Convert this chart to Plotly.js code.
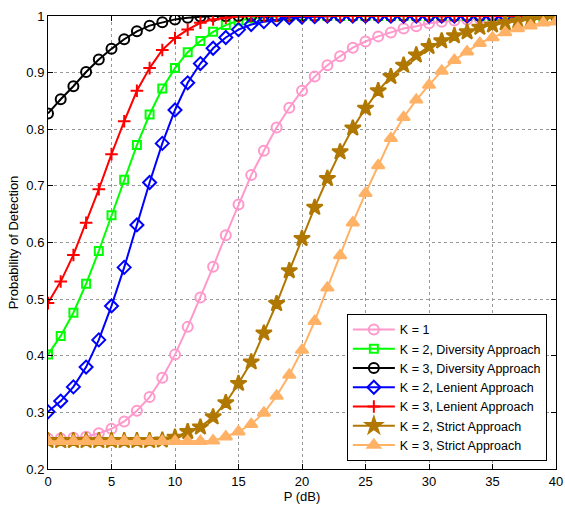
<!DOCTYPE html>
<html>
<head>
<meta charset="utf-8">
<script src="https://cdn.plot.ly/plotly-3.0.1.min.js"></script>
<style>html,body{margin:0;padding:0;background:#fff;}#chart{width:565px;height:507px;}</style>
</head>
<body>
<div id="chart"></div>
<script>
const P = [0,1,2,3,4,5,6,7,8,9,10,11,12,13,14,15,16,17,18,19,20,21,22,23,24,25,26,27,28,29,30,31,32,33,34,35,36,37,38,39,40];
const k1 = [0.254,0.254,0.255,0.257,0.263,0.271,0.284,0.303,0.327,0.361,0.402,0.451,0.503,0.557,0.613,0.667,0.719,0.762,0.803,0.838,0.868,0.893,0.913,0.929,0.944,0.955,0.964,0.971,0.978,0.982,0.987,0.990,0.992,0.994,0.995,0.996,0.997,0.998,0.998,0.999,0.999];
const k2Diversity = [0.402,0.435,0.476,0.527,0.585,0.648,0.711,0.772,0.826,0.872,0.908,0.936,0.956,0.972,0.984,0.992,0.996,0.998,0.999,1,1,1,1,1,1,1,1,1,1,1,1,1,1,1,1,1,1,1,1,1,1];
const k3Diversity = [0.828,0.853,0.876,0.901,0.923,0.942,0.959,0.973,0.983,0.989,0.994,0.997,0.999,1,1,1,1,1,1,1,1,1,1,1,1,1,1,1,1,1,1,1,1,1,1,1,1,1,1,1,1];
const k2Lenient = [0.301,0.320,0.345,0.380,0.428,0.488,0.556,0.631,0.706,0.775,0.834,0.882,0.916,0.943,0.962,0.976,0.985,0.990,0.994,0.997,0.998,0.999,1,1,1,1,1,1,1,1,1,1,1,1,1,1,1,1,1,1,1];
const k3Lenient = [0.493,0.531,0.578,0.635,0.694,0.756,0.814,0.868,0.908,0.940,0.961,0.976,0.988,0.994,0.997,0.999,1,1,1,1,1,1,1,1,1,1,1,1,1,1,1,1,1,1,1,1,1,1,1,1,1];
const k2Strict = [0.250,0.250,0.250,0.250,0.250,0.250,0.250,0.250,0.250,0.251,0.256,0.266,0.274,0.292,0.317,0.351,0.389,0.440,0.492,0.550,0.607,0.662,0.713,0.760,0.802,0.837,0.868,0.893,0.913,0.931,0.946,0.956,0.965,0.972,0.980,0.984,0.988,0.991,0.994,0.995,0.997];
const k3Strict = [0.249,0.249,0.249,0.249,0.249,0.249,0.249,0.249,0.249,0.249,0.249,0.249,0.249,0.250,0.257,0.266,0.279,0.299,0.329,0.366,0.410,0.461,0.520,0.577,0.635,0.687,0.736,0.784,0.821,0.852,0.878,0.903,0.922,0.937,0.952,0.962,0.971,0.978,0.983,0.988,0.990];

const names = ['K = 1','K = 2, Diversity Approach','K = 3, Diversity Approach','K = 2, Lenient Approach','K = 3, Lenient Approach','K = 2, Strict Approach','K = 3, Strict Approach'];
const series = [k1,k2Diversity,k3Diversity,k2Lenient,k3Lenient,k2Strict,k3Strict];
const colors = ['#ff99cc','#00ff00','#000000','#0000ff','#ff0000','#b07800','#ffb266'];
const symbols = ['circle-open','square-open','circle-open','diamond-open','cross-thin-open','star','triangle-up'];
const sizes = [10,8,10,10,9,12,11];

const traces = series.map((y,i)=>({
  x: P, y: y, name: names[i], type:'scatter', mode:'lines+markers',
  line:{color:colors[i], width:2},
  marker:{symbol:symbols[i], size:sizes[i], color:colors[i], line:{color:colors[i], width:2}}
}));

const axisCommon = {
  showline:true, linecolor:'#000', linewidth:1, mirror:'ticks',
  ticks:'inside', ticklen:5, tickcolor:'#000',
  showgrid:true, gridcolor:'#999', griddash:'dot', gridwidth:1,
  zeroline:false, tickfont:{size:13, color:'#000'}
};

const layout = {
  width:565, height:507,
  margin:{l:48, r:9, t:16, b:38},
  paper_bgcolor:'#fff', plot_bgcolor:'#fff',
  font:{family:'Liberation Sans, Arial, sans-serif', size:13, color:'#000'},
  showlegend:true,
  legend:{x:0.982, y:0.018, xanchor:'right', yanchor:'bottom', bgcolor:'#fff', bordercolor:'#000', borderwidth:1, font:{size:12.5}, tracegroupgap:0, itemwidth:42},
  xaxis:Object.assign({}, axisCommon, {range:[0,40], tickvals:[0,5,10,15,20,25,30,35,40], title:{text:'P (dB)', font:{size:13}, standoff:2}}),
  yaxis:Object.assign({}, axisCommon, {range:[0.2,1], tickvals:[0.2,0.3,0.4,0.5,0.6,0.7,0.8,0.9,1], ticktext:['0.2','0.3','0.4','0.5','0.6','0.7','0.8','0.9','1'], title:{text:'Probability of Detection', font:{size:13}, standoff:4}})
};

Plotly.newPlot('chart', traces, layout, {displayModeBar:false, staticPlot:true});
</script>
</body>
</html>
